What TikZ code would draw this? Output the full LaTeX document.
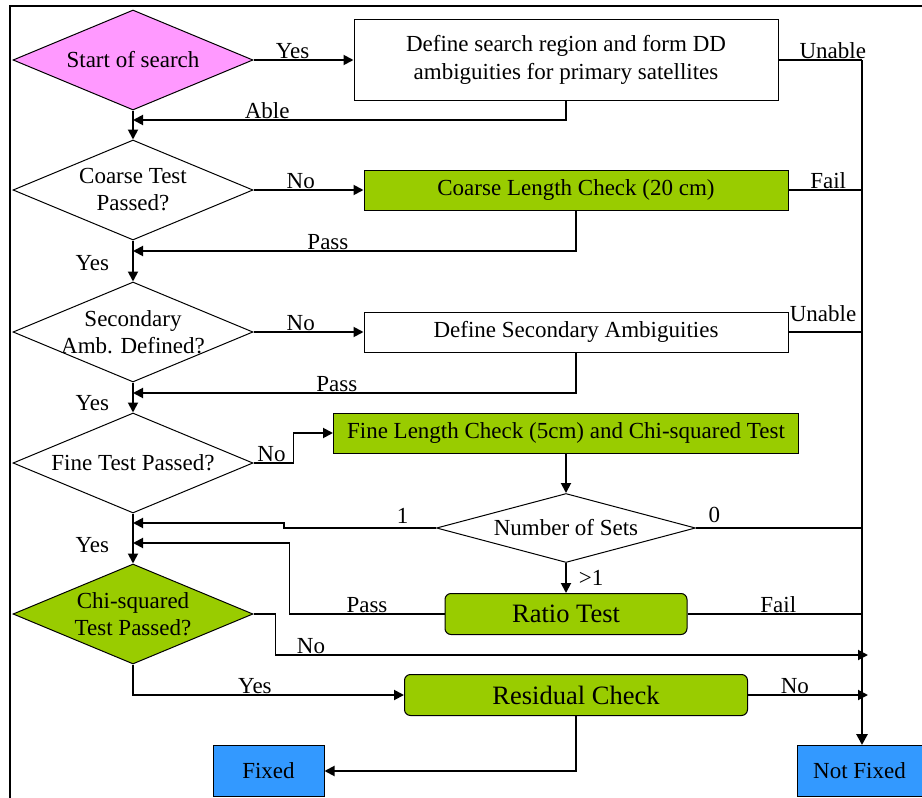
\documentclass[tikz,border=0pt]{standalone}
\usepackage{fontspec}
\setmainfont{Liberation Serif}
\usepackage{tikz}
\usetikzlibrary{shapes,arrows.meta,positioning,calc}
\definecolor{startpink}{HTML}{FF99FF}
\definecolor{checkgreen}{HTML}{99CC00}
\definecolor{endblue}{HTML}{3399FF}

\tikzset{
  dec/.style={diamond, draw, line width=1pt, minimum width=240pt, minimum height=100pt, inner sep=0pt},
  dtext/.style={align=center, font=\fontsize{23}{27}\selectfont, inner sep=0pt},
  procbox/.style={rectangle, draw, line width=1pt, inner sep=0pt, minimum height=40pt, align=center, font=\fontsize{23}{28}\selectfont},
  roundbox/.style={procbox, fill=checkgreen, rounded corners=6pt, minimum height=41pt, font=\fontsize{26.5}{30}\selectfont},
  endbox/.style={procbox, fill=endblue, minimum height=51pt},
  conn/.style={line width=1.9pt, -{Triangle[length=10pt,width=10pt]}},
  link/.style={line width=1.9pt},
  busline/.style={line width=2.8pt},
  lbl/.style={above, inner sep=0pt, font=\fontsize{23}{27}\selectfont},
  yeslbl/.style={left=23pt, inner sep=0pt, font=\fontsize{23}{27}\selectfont}
}

\begin{document}
\begin{tikzpicture}[x=1pt,y=-1pt]
  \useasboundingbox (0,0) rectangle (922,798);
  % Frame (cut off at right and bottom)
  \draw[line width=2.4pt] (10,798) -- (10,6) -- (922,6);

  % Decisions
  \node[dec, fill=startpink, label={[dtext]center:Start of search}] (start) at (133,60) {};
  \node[dec, label={[dtext]center:Coarse Test\\Passed?}] (coarse) at (133,190) {};
  \node[dec, label={[dtext]center:Secondary\\Amb. Defined?}] (secamb) at (133,332) {};
  \node[dec, label={[dtext]center:Fine Test Passed?}] (fine) at (133,463) {};
  \node[dec, fill=checkgreen, label={[dtext]center:Chi-squared\\Test Passed?}] (chisq) at (133,614) {};
  \node[dec, minimum width=259pt, minimum height=69pt, label={[dtext]center:Number of Sets}] (nsets) at (566,528) {};

  % Process boxes
  \node[procbox, minimum width=424pt, minimum height=81pt] (region) at (566,60) {Define search region and form DD\\ambiguities for primary satellites};
  \node[procbox, fill=checkgreen, minimum width=424pt] (coarsechk) at (576,190) {Coarse Length Check (20 cm)};
  \node[procbox, minimum width=424pt] (secdef) at (576,332) {Define Secondary Ambiguities};
  \node[procbox, fill=checkgreen, minimum width=465pt] (finechk) at (566,433) {Fine Length Check (5cm) and Chi-squared Test};
  \node[roundbox, minimum width=242pt] (ratio) at (566,614) {Ratio Test};
  \node[roundbox, minimum width=343pt] (resid) at (576,695) {Residual Check};
  \node[endbox, minimum width=111pt] (fixed) at (268.5,771) {Fixed};
  \node[endbox, minimum width=125pt] (notfixed) at (859.5,771) {Not Fixed};

  % Junctions on the left trunk and the right bus
  \coordinate (jable) at (133,120);
  \coordinate (jpass1) at (133,251);
  \coordinate (jpass2) at (133,393);
  \coordinate (jone) at (133,523);
  \coordinate (jpass3) at (133,543);
  \coordinate (bustop) at (862,60);
  \coordinate (bfail1) at (862,190);
  \coordinate (bunable) at (862,332);
  \coordinate (bzero) at (862,528);
  \coordinate (bfail2) at (862,614);
  \coordinate (bno1) at (868,655);
  \coordinate (bno2) at (868,695);

  % Right bus to Not Fixed
  \draw[busline,-{Triangle[length=11pt,width=11pt]}] (bustop) -- (bustop |- notfixed.north);

  % Start and search region
  \draw[conn] (start.east) -- node[lbl,pos=0.39] (lyes0) {Yes} (region.west);
  \draw[link] (region.east) -- node[lbl,pos=0.65] (lunable1) {Unable} (bustop);
  \draw[conn] (region.south) |- node[lbl,pos=0.845] (lable) {Able} (jable);
  \draw[conn] (start.south) -- (coarse.north);

  % Coarse test
  \draw[conn] (coarse.east) -- node[lbl,pos=0.43] (lno1) {No} (coarsechk.west);
  \draw[link] (coarsechk.east) -- node[lbl,pos=0.54] (lfail1) {Fail} (bfail1);
  \draw[conn] (coarsechk.south) |- node[lbl,pos=0.78] (lpass1) {Pass} (jpass1);
  \draw[conn] (coarse.south) -- node[yeslbl,pos=0.55] (lyes1) {Yes} (secamb.north);

  % Secondary ambiguities
  \draw[conn] (secamb.east) -- node[lbl,pos=0.43] (lno2) {No} (secdef.west);
  \draw[link] (secdef.east) -- node[lbl,above=9pt,pos=0.47] (lunable2) {Unable} (bunable);
  \draw[conn] (secdef.south) |- node[lbl,pos=0.77] (lpass2) {Pass} (jpass2);
  \draw[conn] (secamb.south) -- node[yeslbl,pos=0.7] (lyes2) {Yes} (fine.north);

  % Fine test and number of sets
  \draw[conn] (fine.east) -- node[lbl,pos=0.45] (lno3) {No} ++(40,0) |- (finechk.west);
  \draw[conn] (finechk.south) -- (nsets.north);
  \draw[conn] (nsets.west) -- node[lbl,above=4pt,pos=0.22] (lone) {1} ++(-152,0) -- ++(0,-5) -- (jone);
  \draw[link] (nsets.east) -- node[lbl,above=4pt,pos=0.11] (lzero) {0} (bzero);
  \draw[conn] (nsets.south) -- node[right=12pt,inner sep=0pt,font=\fontsize{23}{27}\selectfont] (lmore) {>1} (ratio.north);
  \draw[conn] (ratio.west) -- node[lbl,pos=0.5] (lpass3) {Pass} ++(-155,0) |- (jpass3);
  \draw[link] (ratio.east) -- node[lbl,pos=0.52] (lfail2) {Fail} (bfail2);
  \draw[conn] (fine.south) -- node[yeslbl,pos=0.63] (lyes3) {Yes} (chisq.north);

  % Chi-squared and residual check
  \draw[conn] (chisq.east) -- ++(22,0) |- node[lbl,pos=0.53] (lno4) {No} (bno1);
  \draw[conn] (chisq.south) |- node[lbl,pos=0.725] (lyes4) {Yes} (resid.west);
  \draw[conn] (resid.east) -- node[lbl,pos=0.39] (lno5) {No} (bno2);
  \draw[conn] (resid.south) |- (fixed.east);
\end{tikzpicture}
\end{document}
